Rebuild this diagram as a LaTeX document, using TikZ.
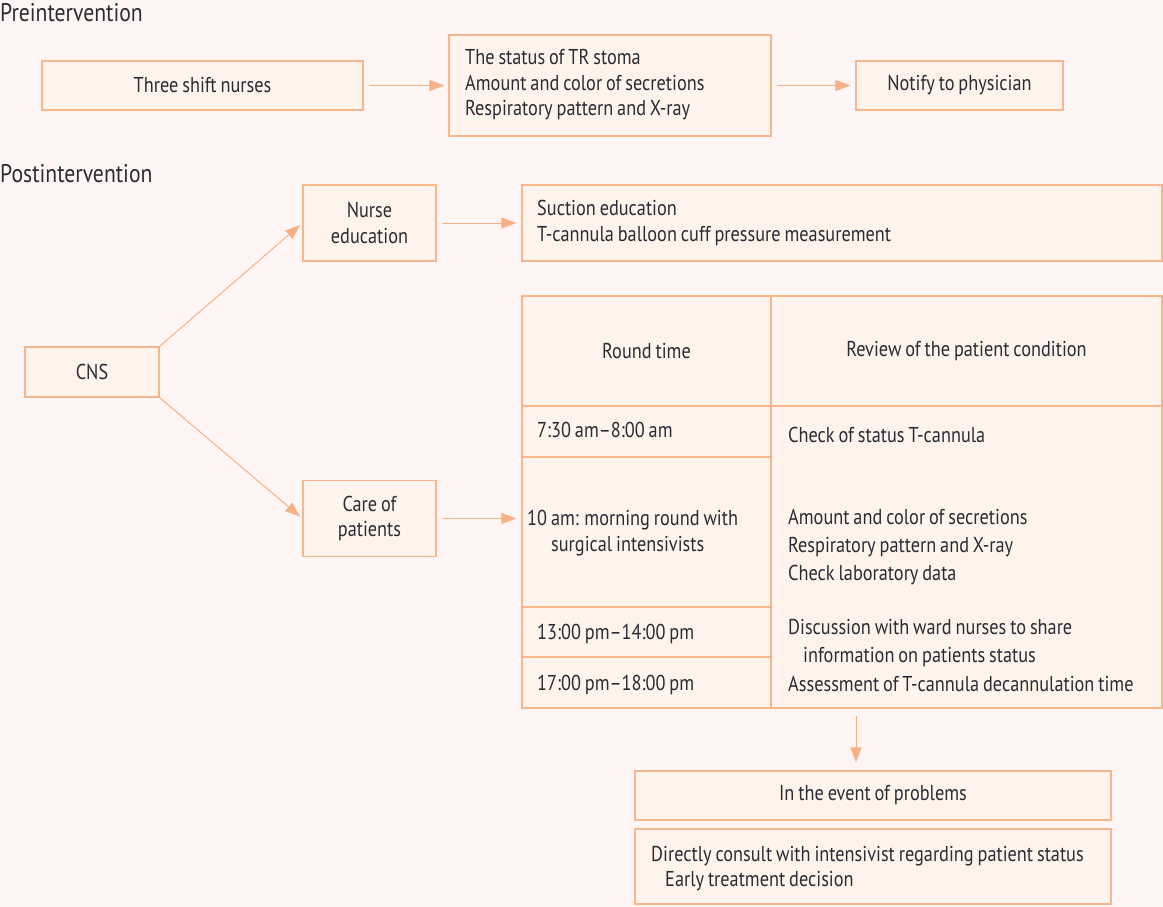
\documentclass[tikz,border=0pt]{standalone}
\usepackage{fontspec}
\setmainfont{PT Sans}[FakeStretch=0.85,WordSpace=0.8]
\usetikzlibrary{arrows.meta}
\definecolor{bg}{HTML}{FFF5F5}
\definecolor{boxfill}{HTML}{FFF4EC}
\definecolor{boxline}{HTML}{F8B68C}
\definecolor{arr}{HTML}{F6B286}
\definecolor{txt}{HTML}{2B2B33}
\tikzset{
  box/.style={draw=boxline, fill=boxfill, line width=1.2pt, inner sep=0pt, text=txt, align=center},
  lbl/.style={text=txt, inner sep=0pt, anchor=base west},
  ttl/.style={lbl, font=\fontsize{25.5}{30}\selectfont},
  flow/.style={draw=arr, line width=1pt, -{Triangle[length=15pt,width=11pt]}},
}
\begin{document}
\begin{tikzpicture}[x=1pt,y=-1pt,font=\fontsize{21.5}{25.5}\selectfont]
\fill[bg] (0,0) rectangle (1163,907);
\useasboundingbox (0,0) rectangle (1163,907);
% titles
\node[ttl] (pre) at (0,22) {Preintervention};
\node[ttl] (post) at (0,182) {Postintervention};
% preintervention
\node[box, minimum width=321, minimum height=49] (tsn) at (202.5,85.5) {Three shift nurses};
\node[box, minimum width=322, minimum height=101] (stat) at (610,85.5) {};
\node[lbl] (s1) at (465,65) {The status of TR stoma};
\node[lbl] (s2) at (465,90.5) {Amount and color of secretions};
\node[lbl] (s3) at (465,116) {Respiratory pattern and X-ray};
\node[box, minimum width=207, minimum height=49] (notify) at (959.5,85.5) {Notify to physician};
\draw[flow, shorten <=5pt, shorten >=4pt] (tsn) -- (stat);
\draw[flow, shorten <=5pt, shorten >=5pt] (stat) -- (notify);
% postintervention
\node[box, minimum width=134, minimum height=50] (cns) at (92,372) {CNS};
\node[box, minimum width=133, minimum height=76] (ne) at (369.5,223) {Nurse\\education};
\node[box, minimum width=133, minimum height=76] (cp) at (369.5,518.5) {Care of\\patients};
\node[box, minimum width=640, minimum height=76] (suc) at (842,223) {};
\node[lbl] (u1) at (537,215) {Suction education};
\node[lbl] (u2) at (537,241) {T-cannula balloon cuff pressure measurement};
\draw[flow, shorten >=3pt] (cns.north east) -- (ne.west);
\draw[flow, shorten >=3pt] (cns.south east) -- (cp.west);
\draw[flow, shorten <=5pt, shorten >=5pt] (ne) -- (suc);
% table
\node[box, minimum width=249, minimum height=110] (rt) at (646.5,351) {Round time};
\node[box, minimum width=391, minimum height=110] (rv) at (966.5,351) {Review of the patient condition};
\node[box, minimum width=249, minimum height=51] (r1) at (646.5,431.5) {};
\node[box, minimum width=249, minimum height=150] (r2) at (646.5,532) {};
\node[box, minimum width=249, minimum height=50] (r3) at (646.5,632) {};
\node[box, minimum width=249, minimum height=51] (r4) at (646.5,682.5) {};
\node[box, minimum width=391, minimum height=302] (rc) at (966.5,557) {};
\draw[flow, shorten <=5pt, shorten >=5pt] (cp) -- (cp -| r2.west);
\node[lbl] (t1) at (537,437) {7:30 am\textendash 8:00 am};
\node[lbl] (t2a) at (527,525) {10 am: morning round with};
\node[lbl] (t2b) at (551,551) {surgical intensivists};
\node[lbl] (t3) at (537,639) {13:00 pm\textendash 14:00 pm};
\node[lbl] (t4) at (537,690) {17:00 pm\textendash 18:00 pm};
\node[lbl] (c1) at (788,442) {Check of status T-cannula};
\node[lbl] (c2) at (788,524) {Amount and color of secretions};
\node[lbl] (c3) at (788,552) {Respiratory pattern and X-ray};
\node[lbl] (c4) at (788,580) {Check laboratory data};
\node[lbl] (c5) at (788,634) {Discussion with ward nurses to share};
\node[lbl] (c6) at (803,662) {information on patients status};
\node[lbl] (c7) at (788,691) {Assessment of T-cannula decannulation time};
% bottom
\node[box, minimum width=476, minimum height=49] (ev) at (873,795.5) {In the event of problems};
\node[box, minimum width=476, minimum height=75] (dc) at (873,866.5) {};
\node[lbl] (d1) at (651,861) {Directly consult with intensivist regarding patient status};
\node[lbl] (d2) at (665,886) {Early treatment decision};
\coordinate (dn) at (856,716);
\draw[flow, shorten >=8pt] (dn) -- (dn |- ev.north);
\end{tikzpicture}
\end{document}
